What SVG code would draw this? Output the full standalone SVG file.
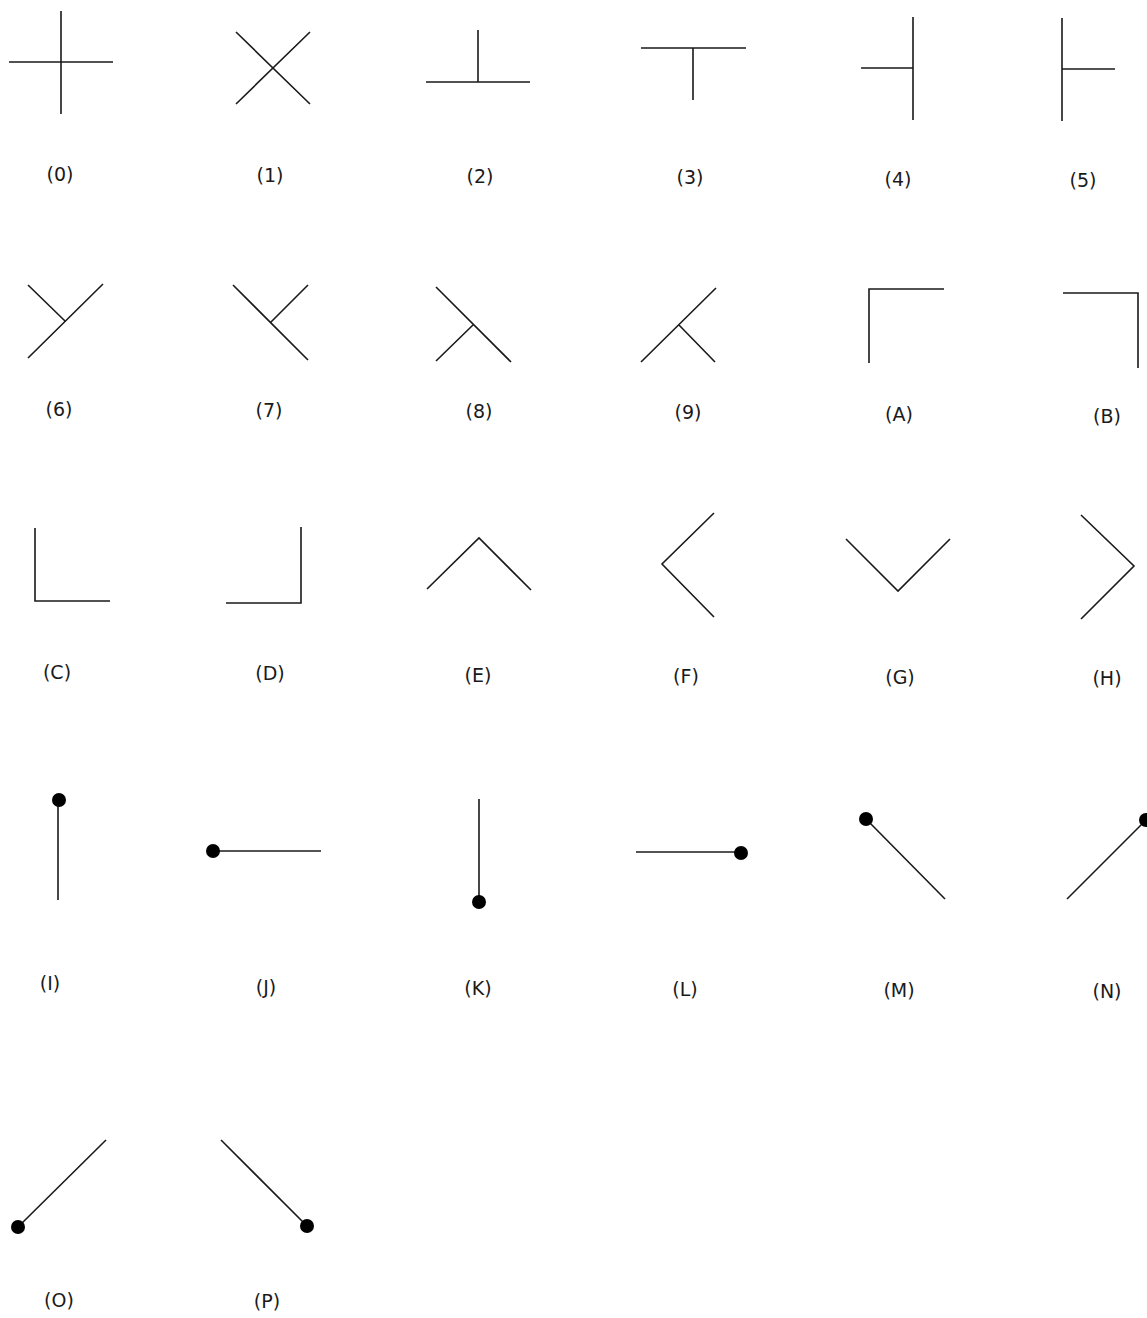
<svg xmlns="http://www.w3.org/2000/svg" width="1147" height="1318" viewBox="0 0 1147 1318">
<style>
.s{fill:none;stroke:#1a1a1a;stroke-width:1.6;stroke-linecap:butt;stroke-linejoin:miter}
.d{fill:#000}
.t{font-family:"DejaVu Sans","Liberation Sans",sans-serif;font-size:19px;fill:#1a1a1a;text-anchor:middle}
</style>
<rect width="1147" height="1318" fill="#fff"/>
<g id="n0"><path class="s" d="M61 11V114M9 62H113"/><text class="t" x="60" y="181">(0)</text></g>
<g id="n1"><path class="s" d="M236 32L310 104M236 104L310 32"/><text class="t" x="270" y="182">(1)</text></g>
<g id="n2"><path class="s" d="M478 30V82M426 82H530"/><text class="t" x="480" y="183">(2)</text></g>
<g id="n3"><path class="s" d="M641 48H746M693 48V100"/><text class="t" x="690" y="184">(3)</text></g>
<g id="n4"><path class="s" d="M913 17V120M861 68H913"/><text class="t" x="898" y="186">(4)</text></g>
<g id="n5"><path class="s" d="M1062 18V121M1062 69H1115"/><text class="t" x="1083" y="187">(5)</text></g>

<g id="n6"><path class="s" d="M103 284L28 358M28 285L65 321"/><text class="t" x="59" y="416">(6)</text></g>
<g id="n7"><path class="s" d="M233 285L308 360M271 322L308 285"/><text class="t" x="269" y="417">(7)</text></g>
<g id="n8"><path class="s" d="M436 287L511 362M474 324L436 361"/><text class="t" x="479" y="418">(8)</text></g>
<g id="n9"><path class="s" d="M716 288L641 362M679 325L715 362"/><text class="t" x="688" y="419">(9)</text></g>
<g id="nA"><path class="s" d="M869 363V289H944"/><text class="t" x="899" y="421">(A)</text></g>
<g id="nB"><path class="s" d="M1063 293H1138V368"/><text class="t" x="1107" y="423">(B)</text></g>

<g id="nC"><path class="s" d="M35 528V601H110"/><text class="t" x="57" y="679">(C)</text></g>
<g id="nD"><path class="s" d="M301 527V603H226"/><text class="t" x="270" y="680">(D)</text></g>
<g id="nE"><path class="s" d="M427 589L479 538L531 590"/><text class="t" x="478" y="682">(E)</text></g>
<g id="nF"><path class="s" d="M714 513L662 564L714 617"/><text class="t" x="686" y="683">(F)</text></g>
<g id="nG"><path class="s" d="M846 539L898 591L950 539"/><text class="t" x="900" y="684">(G)</text></g>
<g id="nH"><path class="s" d="M1081 515L1134 566L1081 619"/><text class="t" x="1107" y="685">(H)</text></g>

<g id="nI"><path class="s" d="M58 800V900"/><circle class="d" cx="59" cy="800" r="7"/><text class="t" x="50" y="990">(I)</text></g>
<g id="nJ"><path class="s" d="M213 851H321"/><circle class="d" cx="213" cy="851" r="7"/><text class="t" x="266" y="994">(J)</text></g>
<g id="nK"><path class="s" d="M479 799V902"/><circle class="d" cx="479" cy="902" r="7"/><text class="t" x="478" y="995">(K)</text></g>
<g id="nL"><path class="s" d="M636 852H741"/><circle class="d" cx="741" cy="853" r="7"/><text class="t" x="685" y="996">(L)</text></g>
<g id="nM"><path class="s" d="M866 819L945 899"/><circle class="d" cx="866" cy="819" r="7"/><text class="t" x="899" y="997">(M)</text></g>
<g id="nN"><path class="s" d="M1146 820L1067 899"/><circle class="d" cx="1146" cy="820" r="7"/><text class="t" x="1107" y="998">(N)</text></g>

<g id="nO"><path class="s" d="M18 1227L106 1140"/><circle class="d" cx="18" cy="1227" r="7"/><text class="t" x="59" y="1307">(O)</text></g>
<g id="nP"><path class="s" d="M221 1140L307 1226"/><circle class="d" cx="307" cy="1226" r="7"/><text class="t" x="267" y="1308">(P)</text></g>
<g id="connectors"></g>
</svg>
